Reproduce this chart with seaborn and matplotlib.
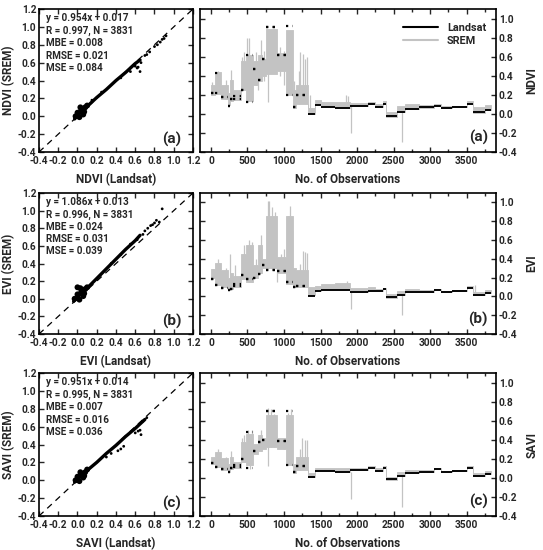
import numpy as np
import matplotlib
matplotlib.use("Agg")
import matplotlib.pyplot as plt
from matplotlib.lines import Line2D
from matplotlib.ticker import MultipleLocator
import seaborn as sns

# segment boundaries (No. of Observations), shared by all three indices
edges = [0, 50, 140, 240, 260, 305, 405, 475, 580, 650, 695, 750, 900, 1030, 1125, 1170, 1330,
         1420, 1500, 1700, 1900, 2150, 2250, 2350, 2400, 2550, 2650, 2850, 3050, 3150, 3300,
         3500, 3580, 3750, 3831]
n_noisy = 16  # first segments with strong scatter between the two sensors

# NDVI time series: Landsat levels and SREM envelope per segment
ndvi_l_lo = [0.22, 0.22, 0.18, 0.08, 0.16, 0.16, 0.25, 0.12, 0.47, 0.36, 0.58, 0.91, 0.62, 0.20, 0.07, 0.20, 0.00,
             0.09, 0.075, 0.06, 0.08, 0.10, 0.07, 0.10, -0.02, 0.02, 0.05, 0.07, 0.085, 0.06, 0.07, 0.10, 0.02, 0.04]
ndvi_l_hi = [0.22, 0.43, 0.18, 0.08, 0.16, 0.19, 0.25, 0.62, 0.47, 0.36, 0.58, 0.91, 0.62, 0.92, 0.07, 0.20, 0.00,
             0.09, 0.075, 0.06, 0.08, 0.10, 0.07, 0.10, -0.02, 0.02, 0.05, 0.07, 0.085, 0.06, 0.07, 0.10, 0.02, 0.04]
ndvi_s_lo = [0.20, 0.21, 0.16, 0.09, 0.14, 0.15, 0.25, 0.14, 0.30, 0.35, 0.40, 0.42, 0.45, 0.20, 0.06, 0.10, 0.00,
             0.09, 0.075, 0.06, 0.08, 0.10, 0.07, 0.10, -0.03, 0.02, 0.05, 0.06, 0.08, 0.06, 0.07, 0.10, 0.01, 0.04]
ndvi_s_hi = [0.30, 0.44, 0.30, 0.22, 0.36, 0.25, 0.55, 0.62, 0.55, 0.62, 0.58, 0.89, 0.64, 0.88, 0.25, 0.30, 0.06,
             0.15, 0.12, 0.12, 0.11, 0.12, 0.10, 0.13, 0.02, 0.08, 0.10, 0.09, 0.10, 0.08, 0.085, 0.13, 0.07, 0.09]
ndvi_spk_x = [20, 100, 200, 280, 420, 450, 490, 520, 556, 610, 640, 680, 720, 784, 950, 1000, 1044,
              1140, 1200, 1220, 1260, 1290, 1310, 1350, 1850, 1880, 1910, 2615]
ndvi_spk_lo = [0.22, 0.22, 0.16, 0.14, 0.25, 0.30, 0.45, 0.14, 0.12, 0.30, 0.25, 0.50, 0.35, 0.12, 0.40, 0.30, 0.20,
               0.06, 0.10, 0.20, 0.20, 0.20, 0.20, 0.00, 0.10, 0.10, 0.08, 0.02]
ndvi_spk_hi = [0.33, 0.45, 0.36, 0.46, 0.60, 0.65, 0.80, 0.80, 0.50, 0.65, 0.55, 0.77, 0.66, 0.45, 0.70, 0.66, 0.50,
               0.35, 0.45, 0.65, 0.63, 0.58, 0.60, 0.20, 0.20, 0.19, -0.20, -0.30]

# EVI time series
evi_l_lo = [0.19, 0.12, 0.09, 0.07, 0.08, 0.11, 0.23, 0.18, 0.20, 0.24, 0.33, 0.28, 0.27, 0.15, 0.10, 0.11, 0.00,
            0.06, 0.07, 0.07, 0.05, 0.06, 0.06, 0.08, -0.01, 0.02, 0.05, 0.05, 0.07, 0.05, 0.06, 0.09, 0.01, 0.04]
evi_l_hi = [0.19, 0.12, 0.09, 0.07, 0.08, 0.13, 0.23, 0.18, 0.20, 0.24, 0.33, 0.28, 0.27, 0.15, 0.10, 0.11, 0.00,
            0.06, 0.07, 0.07, 0.05, 0.06, 0.06, 0.08, -0.01, 0.02, 0.05, 0.05, 0.07, 0.05, 0.06, 0.09, 0.01, 0.04]
evi_s_lo = [0.20, 0.12, 0.10, 0.07, 0.08, 0.10, 0.18, 0.15, 0.20, 0.25, 0.30, 0.30, 0.25, 0.13, 0.10, 0.10, 0.02,
            0.06, 0.07, 0.07, 0.05, 0.06, 0.06, 0.08, -0.02, 0.02, 0.05, 0.05, 0.07, 0.05, 0.06, 0.09, 0.02, 0.04]
evi_s_hi = [0.29, 0.36, 0.28, 0.20, 0.25, 0.22, 0.45, 0.55, 0.33, 0.55, 0.40, 0.85, 0.42, 0.85, 0.30, 0.28, 0.10,
            0.11, 0.13, 0.14, 0.09, 0.10, 0.08, 0.09, 0.03, 0.06, 0.08, 0.07, 0.08, 0.06, 0.07, 0.11, 0.05, 0.07]
evi_spk_x = [30, 100, 200, 260, 330, 450, 520, 560, 620, 680, 780, 800, 840, 870, 905, 960, 1000,
             1050, 1080, 1110, 1220, 1260, 1290, 1320, 1860, 1910, 2615, 3610]
evi_spk_lo = [0.20, 0.12, 0.10, 0.08, 0.12, 0.20, 0.15, 0.15, 0.20, 0.25, 0.30, 0.30, 0.30, 0.30, 0.15, 0.27, 0.25,
              0.15, 0.15, 0.13, 0.10, 0.10, 0.10, 0.10, 0.07, 0.05, 0.02, 0.02]
evi_spk_hi = [0.29, 0.40, 0.30, 0.45, 0.33, 0.55, 0.60, 0.58, 0.40, 0.65, 1.02, 1.01, 0.95, 0.90, 0.40, 0.45, 0.50,
              0.85, 0.96, 0.70, 0.35, 0.48, 0.47, 0.46, 0.16, -0.13, -0.20, 0.12]

# SAVI time series
savi_l_lo = [0.16, 0.11, 0.09, 0.06, 0.10, 0.11, 0.20, 0.10, 0.28, 0.38, 0.40, 0.70, 0.39, 0.14, 0.06, 0.12, 0.01,
             0.07, 0.07, 0.06, 0.08, 0.10, 0.07, 0.10, -0.01, 0.02, 0.05, 0.06, 0.09, 0.06, 0.07, 0.10, 0.02, 0.04]
savi_l_hi = [0.16, 0.11, 0.09, 0.06, 0.10, 0.13, 0.20, 0.48, 0.28, 0.38, 0.40, 0.70, 0.39, 0.70, 0.06, 0.12, 0.01,
             0.07, 0.07, 0.06, 0.08, 0.10, 0.07, 0.10, -0.01, 0.02, 0.05, 0.06, 0.09, 0.06, 0.07, 0.10, 0.02, 0.04]
savi_s_lo = [0.15, 0.11, 0.08, 0.06, 0.09, 0.10, 0.17, 0.13, 0.25, 0.28, 0.30, 0.32, 0.30, 0.14, 0.05, 0.08, 0.01,
             0.07, 0.07, 0.06, 0.08, 0.10, 0.07, 0.10, -0.02, 0.02, 0.05, 0.06, 0.09, 0.06, 0.07, 0.10, 0.02, 0.04]
savi_s_hi = [0.22, 0.27, 0.21, 0.15, 0.22, 0.17, 0.38, 0.46, 0.36, 0.45, 0.42, 0.66, 0.42, 0.66, 0.15, 0.22, 0.05,
             0.10, 0.10, 0.10, 0.10, 0.12, 0.10, 0.12, 0.01, 0.06, 0.08, 0.08, 0.10, 0.07, 0.08, 0.12, 0.05, 0.07]
savi_spk_x = [100, 200, 280, 430, 450, 510, 540, 560, 680, 780, 785, 820, 860, 1000, 1060, 1100,
              1220, 1250, 1290, 1320, 1910, 2615]
savi_spk_lo = [0.11, 0.08, 0.09, 0.17, 0.17, 0.13, 0.09, 0.13, 0.28, 0.32, 0.12, 0.32, 0.32, 0.30, 0.14, 0.14,
               0.08, 0.10, 0.10, 0.10, 0.06, 0.02]
savi_spk_hi = [0.30, 0.22, 0.28, 0.42, 0.45, 0.50, 0.30, 0.50, 0.50, 0.73, 0.50, 0.72, 0.67, 0.42, 0.68, 0.72,
               0.30, 0.42, 0.40, 0.40, -0.22, -0.31]

# scatter panels: main cloud ridge, dense blob near zero, sparse points
ndvi_cl_x = [-0.03, 0.0, 0.05, 0.1, 0.2, 0.3, 0.4, 0.5, 0.6, 0.65]
ndvi_cl_y = [-0.03, 0.01, 0.06, 0.11, 0.21, 0.30, 0.40, 0.49, 0.59, 0.63]
ndvi_bl_x = [-0.02, 0.0, 0.02, 0.04, 0.06, 0.08, 0.03, 0.07, 0.1]
ndvi_bl_y = [0.0, 0.04, -0.01, 0.07, 0.02, 0.10, 0.10, 0.05, 0.12]
ndvi_sp_x = [0.55, 0.6, 0.62, 0.66, 0.7, 0.72, 0.75, 0.8, 0.83, 0.86, 0.88, 0.9, 0.92, 0.15, 0.25, 0.45, 0.63, 0.65]
ndvi_sp_y = [0.5, 0.56, 0.54, 0.6, 0.68, 0.69, 0.72, 0.78, 0.8, 0.83, 0.86, 0.87, 0.9, 0.18, 0.27, 0.43, 0.55, 0.5]

evi_cl_x = [-0.04, 0.0, 0.05, 0.1, 0.2, 0.3, 0.4, 0.5, 0.6, 0.65]
evi_cl_y = [-0.03, 0.02, 0.07, 0.12, 0.23, 0.34, 0.45, 0.56, 0.66, 0.72]
evi_bl_x = [-0.03, 0.0, 0.02, 0.04, 0.06, 0.08, 0.03, 0.07, 0.1, 0.0]
evi_bl_y = [0.0, 0.05, -0.01, 0.08, 0.03, 0.11, 0.12, 0.06, 0.13, 0.13]
evi_sp_x = [0.55, 0.62, 0.68, 0.7, 0.73, 0.76, 0.8, 0.82, 0.85, 0.88, 0.45, 0.35, 0.78]
evi_sp_y = [0.62, 0.67, 0.73, 0.77, 0.8, 0.83, 0.86, 0.89, 0.87, 1.02, 0.5, 0.4, 0.84]

savi_cl_x = [-0.03, 0.0, 0.05, 0.1, 0.2, 0.3, 0.4, 0.5, 0.6, 0.7]
savi_cl_y = [-0.02, 0.01, 0.06, 0.11, 0.20, 0.30, 0.39, 0.49, 0.58, 0.68]
savi_bl_x = [-0.02, 0.0, 0.02, 0.04, 0.06, 0.08, 0.03, 0.07, 0.1]
savi_bl_y = [0.0, 0.04, -0.01, 0.07, 0.03, 0.09, 0.09, 0.05, 0.12]
savi_sp_x = [0.42, 0.45, 0.48, 0.6, 0.63, 0.65, 0.68, 0.72, 0.3, 0.35, 0.66]
savi_sp_y = [0.33, 0.35, 0.38, 0.53, 0.55, 0.56, 0.66, 0.7, 0.26, 0.3, 0.51]

names = ["NDVI", "EVI", "SAVI"]
panel_tags = ["(a)", "(b)", "(c)"]
stats = [
    ["y = 0.954x + 0.017", "R = 0.997, N = 3831", "MBE = 0.008", "RMSE = 0.021", "MSE = 0.084"],
    ["y = 1.086x + 0.013", "R = 0.996, N = 3831", "MBE = 0.024", "RMSE = 0.031", "MSE = 0.039"],
    ["y = 0.951x + 0.014", "R = 0.995, N = 3831", "MBE = 0.007", "RMSE = 0.016", "MSE = 0.036"],
]

GREY = "#c3c3c3"

sns.set_style("ticks")
plt.rcParams["font.family"] = ["Roboto", "DejaVu Sans"]
plt.rcParams["font.weight"] = "bold"
plt.rcParams["axes.labelweight"] = "bold"

fig = plt.figure(figsize=(5.43, 5.50), dpi=100)
rows = [(0.7236, 0.260), (0.3927, 0.2564), (0.0618, 0.260)]

series = [
    (ndvi_l_lo, ndvi_l_hi, ndvi_s_lo, ndvi_s_hi, ndvi_spk_x, ndvi_spk_lo, ndvi_spk_hi),
    (evi_l_lo, evi_l_hi, evi_s_lo, evi_s_hi, evi_spk_x, evi_spk_lo, evi_spk_hi),
    (savi_l_lo, savi_l_hi, savi_s_lo, savi_s_hi, savi_spk_x, savi_spk_lo, savi_spk_hi),
]
clouds = [
    (ndvi_cl_x, ndvi_cl_y, ndvi_bl_x, ndvi_bl_y, ndvi_sp_x, ndvi_sp_y),
    (evi_cl_x, evi_cl_y, evi_bl_x, evi_bl_y, evi_sp_x, evi_sp_y),
    (savi_cl_x, savi_cl_y, savi_bl_x, savi_bl_y, savi_sp_x, savi_sp_y),
]


def style_axes(ax):
    for sp in ax.spines.values():
        sp.set_linewidth(1.2)
        sp.set_color("black")
    ax.tick_params(which="both", direction="in", top=True, right=True, labelsize=7.3,
                   width=1.0, pad=2)
    ax.tick_params(which="major", length=3.5)
    ax.tick_params(which="minor", length=2)
    ax.tick_params(axis="x", pad=3)


for i, (bot, h) in enumerate(rows):
    name = names[i]

    # scatter panel
    ax = fig.add_axes([0.0718, bot, 0.2836, h])
    cx, cy, bx, by, sx, sy = clouds[i]
    ax.plot([-0.4, 1.2], [-0.4, 1.2], color="black", lw=0.9, ls=(0, (5, 4)))
    sns.lineplot(x=cx, y=cy, ax=ax, color="black", lw=2.4, sort=False, estimator=None)
    sns.scatterplot(x=bx, y=by, ax=ax, color="black", s=18, edgecolor="none")
    sns.scatterplot(x=sx, y=sy, ax=ax, color="black", s=4, edgecolor="none")
    ax.set_xlim(-0.4, 1.2)
    ax.set_ylim(-0.4, 1.2)
    ax.xaxis.set_major_locator(MultipleLocator(0.2))
    ax.yaxis.set_major_locator(MultipleLocator(0.2))
    ax.xaxis.set_major_formatter(lambda v, p: f"{v:.1f}")
    ax.yaxis.set_major_formatter(lambda v, p: f"{v:.1f}")
    style_axes(ax)
    ax.set_xlabel(f"{name} (Landsat)", fontsize=8.5, fontweight="bold", labelpad=5)
    ax.set_ylabel(f"{name} (SREM)", fontsize=8.5, fontweight="bold", labelpad=2)
    for k, line in enumerate(stats[i]):
        ax.text(0.045, 0.935 - k * 0.087, line, transform=ax.transAxes, fontsize=7.1,
                fontweight="bold", va="center", ha="left")
    ax.text(0.86, 0.09, panel_tags[i], transform=ax.transAxes, fontsize=11,
            fontweight="bold", ha="center", va="center")

    # time series panel
    ax2 = fig.add_axes([0.3683, bot, 0.5451, h])
    l_lo, l_hi, s_lo, s_hi, kx, klo, khi = series[i]
    e = np.array(edges)
    ax2.fill_between(e, s_lo + [s_lo[-1]], s_hi + [s_hi[-1]], step="post",
                     facecolor=GREY, edgecolor=GREY, lw=0.6)
    ax2.vlines(kx, klo, khi, color=GREY, lw=0.9)
    # Landsat: dotted where the two sensors scatter, solid on the flat part
    for lv in (l_lo, l_hi):
        ax2.hlines(lv[:n_noisy], e[:n_noisy], e[1:n_noisy + 1], color="black", lw=1.6,
                   linestyles=(0, (1, 2)))
        ax2.hlines(lv[n_noisy:], e[n_noisy:-1], e[n_noisy + 1:], color="black", lw=1.1)
    ax2.set_xlim(-150, 3900)
    ax2.set_ylim(-0.4, 1.1)
    ax2.xaxis.set_major_locator(MultipleLocator(500))
    ax2.xaxis.set_minor_locator(MultipleLocator(250))
    ax2.yaxis.set_major_locator(MultipleLocator(0.2))
    ax2.yaxis.set_major_formatter(lambda v, p: f"{v:.1f}")
    ax2.yaxis.tick_right()
    ax2.yaxis.set_label_position("right")
    style_axes(ax2)
    ax2.tick_params(axis="y", labelleft=False, labelright=True, left=True)
    ax2.set_xlabel("No. of Observations", fontsize=8.5, fontweight="bold", labelpad=5)
    ax2.set_ylabel(name, fontsize=8.5, fontweight="bold", labelpad=6)
    ax2.text(0.94, 0.10, panel_tags[i], transform=ax2.transAxes, fontsize=11,
             fontweight="bold", ha="center", va="center")

    if i == 0:
        handles = [Line2D([], [], color="black", lw=1.5), Line2D([], [], color=GREY, lw=1.5)]
        ax2.legend(handles, ["Landsat", "SREM"], loc="upper right", frameon=False,
                   fontsize=7.8, handlelength=3.3, bbox_to_anchor=(1.0, 0.97),
                   labelspacing=0.25, handletextpad=0.8)

fig.savefig("out.png", dpi=100)
